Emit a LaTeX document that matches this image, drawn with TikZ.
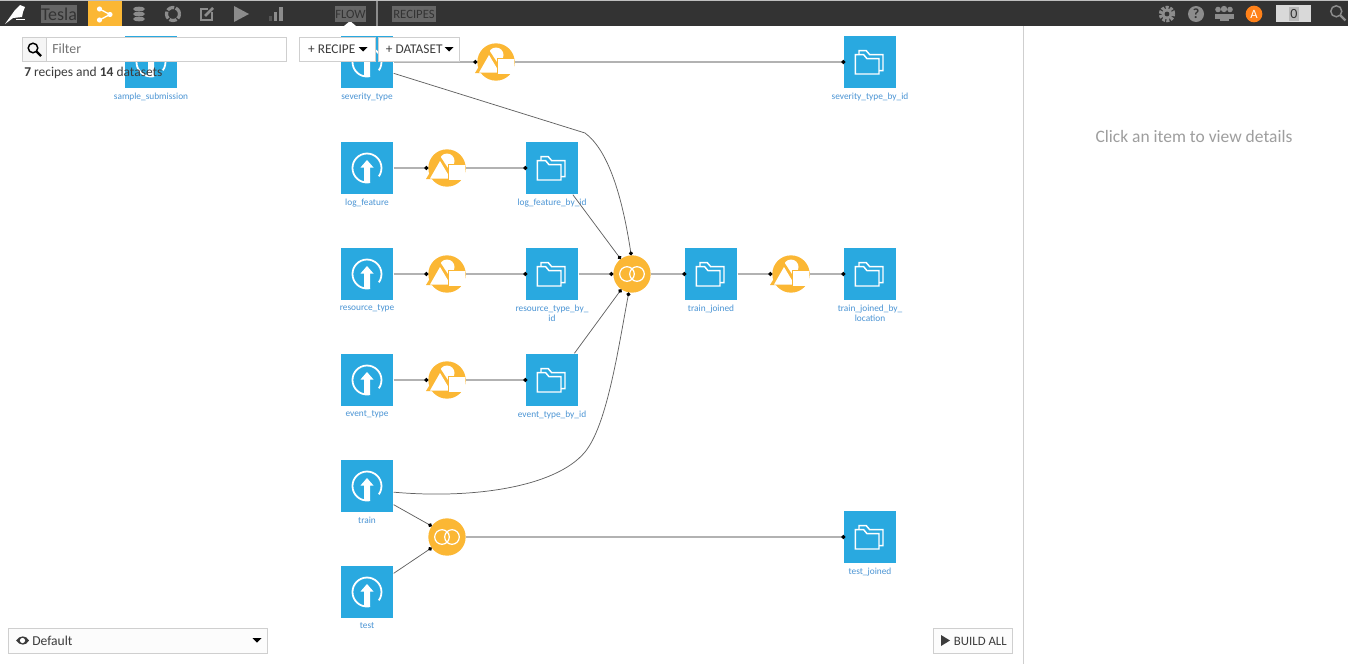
\documentclass[tikz,border=0pt]{standalone}
\usepackage{fontspec}
\setmainfont{Carlito}
\usetikzlibrary{arrows.meta}

\definecolor{barbg}{HTML}{333333}
\definecolor{barhi}{HTML}{666666}
\definecolor{baricon}{HTML}{8C8C8C}
\definecolor{dsblue}{HTML}{29A9E0}
\definecolor{dstext}{HTML}{4A94D4}
\definecolor{recipeyellow}{HTML}{FBB734}
\definecolor{panelline}{HTML}{CFCFCF}
\definecolor{uitext}{HTML}{3C3C3C}

\newcommand{\pxfont}[1]{\fontsize{#1}{#1}\selectfont}

\tikzset{
    dataset/.style={rectangle, fill=dsblue, minimum size=39pt, inner sep=0pt, outer sep=0.5pt},
    recipe/.style={circle, fill=recipeyellow, minimum size=28pt, inner sep=0pt, outer sep=1.5pt},
    dslabel/.style={text=dstext, font=\fontsize{7}{7.5}\selectfont, align=center, inner sep=0pt, yshift=-3pt},
    flowthick/.style={draw=black!30, line width=1.2pt, shorten >=-1.5pt, -{Circle[black,length=3pt]}},
    flowthin/.style={draw=black!62, line width=0.55pt, shorten >=-1.5pt, -{Circle[black,length=3pt]}},
    recipeout/.style={shorten <=-1.5pt},
    uibox/.style={draw=panelline, fill=white, line width=0.8pt, inner sep=0pt, text=uitext},
    barhilite/.style={fill=barhi, text=barbg, inner sep=0pt},
    uploadicon/.pic={
        \draw[white, line width=1.35pt] (3,-14.2) arc[start angle=-78, end angle=-395, radius=14.5];
        \fill[white] (0,8) -- (6.5,0.5) -- (3,0.5) -- (3,-14.5) -- (-3,-14.5) -- (-3,0.5) -- (-6.5,0.5) -- cycle;
    },
    foldericon/.pic={
        \draw[white, line width=1.1pt] (-14.7,7.3) -- (-14.7,-12) -- (9,-12) -- (9,3.3) -- (-3,3.3) -- (-6.3,7.3) -- cycle;
        \draw[white, line width=1.1pt] (-11,7.3) -- (-11,11.3) -- (-3.7,11.3) -- (-0.3,7.3) -- (13,7.3) -- (13,-8.7) -- (9,-8.7);
    },
    spliticon/.pic={
        \fill[white] (0,7) circle (7.5);
        \fill[recipeyellow] (-21,-11) -- (-7,12) -- (8,-11) -- cycle;
        \fill[white] (-17,-10.5) -- (-7,7) -- (3.5,-10.5) -- cycle;
        \fill[white] (1.5,4) rectangle (17.5,-12);
        \draw[recipeyellow, line width=0.6pt] (1.5,-12) -- (1.5,4) -- (17.5,4);
    },
    joinicon/.pic={
        \draw[white, line width=0.9pt] (-5,0) circle (7.3);
        \draw[white, line width=0.9pt] (5,0) circle (7.3);
    },
    lensicon/.pic={
        \draw[#1, line width=1.1pt] (-1.5,1.5) circle (4.8);
        \draw[#1, line width=1.8pt] (2,-2) -- (6.5,-6.5);
    },
    lensicon/.default=black!60,
    caret/.pic={
        \fill[black] (-4.5,2) -- (4.5,2) -- (0,-2.5) -- cycle;
    },
}

\begin{document}
\begin{tikzpicture}[x=0.75pt, y=0.75pt]
    \useasboundingbox (0,0) rectangle (1348,-664);
    \fill[white] (0,0) rectangle (1348,-664);

    % Datasets
    \node[dataset, label={[dslabel]below:sample\_submission}] (sample_submission) at (151,-62) {};
    \node[dataset, label={[dslabel]below:severity\_type}] (severity_type) at (367,-62) {};
    \node[dataset, label={[dslabel]below:severity\_type\_by\_id}] (severity_type_by_id) at (870,-62) {};
    \node[dataset, label={[dslabel]below:log\_feature}] (log_feature) at (367,-168) {};
    \node[dataset, label={[dslabel]below:log\_feature\_by\_id}] (log_feature_by_id) at (552,-168) {};
    \node[dataset, label={[dslabel]below:resource\_type}] (resource_type) at (367,-274) {};
    \node[dataset, label={[dslabel]below:{resource\_type\_by\_\\id}}] (resource_type_by_id) at (552,-274) {};
    \node[dataset, label={[dslabel]below:event\_type}] (event_type) at (367,-380) {};
    \node[dataset, label={[dslabel]below:event\_type\_by\_id}] (event_type_by_id) at (552,-380) {};
    \node[dataset, label={[dslabel]below:train\_joined}] (train_joined) at (711,-274) {};
    \node[dataset, label={[dslabel]below:{train\_joined\_by\_\\location}}] (train_joined_by_location) at (870,-274) {};
    \node[dataset, label={[dslabel]below:train}] (train) at (367,-486) {};
    \node[dataset, label={[dslabel]below:test}] (test) at (367,-592) {};
    \node[dataset, label={[dslabel]below:test\_joined}] (test_joined) at (870,-537) {};

    % Recipes
    \node[recipe] (split_severity) at (496,-62) {};
    \node[recipe] (split_log) at (447,-168) {};
    \node[recipe] (split_resource) at (447,-274) {};
    \node[recipe] (split_event) at (447,-380) {};
    \node[recipe] (split_train) at (791,-274) {};
    \node[recipe] (join_train) at (632,-274) {};
    \node[recipe] (join_test) at (447,-537) {};

    % Icons
    \foreach \name in {sample_submission,severity_type,log_feature,resource_type,event_type,train,test}
        \pic at (\name) {uploadicon};
    \foreach \name in {severity_type_by_id,log_feature_by_id,resource_type_by_id,event_type_by_id,train_joined,train_joined_by_location,test_joined}
        \pic at (\name) {foldericon};
    \foreach \name in {split_severity,split_log,split_resource,split_event,split_train}
        \pic at (\name) {spliticon};
    \foreach \name in {join_train,join_test}
        \pic at (\name) {joinicon};

    % Links
    \draw[flowthick] (severity_type) -- (split_severity);
    \draw[flowthick, recipeout] (split_severity) -- (severity_type_by_id);
    \draw[flowthick] (log_feature) -- (split_log);
    \draw[flowthick, recipeout] (split_log) -- (log_feature_by_id);
    \draw[flowthick] (resource_type) -- (split_resource);
    \draw[flowthick, recipeout] (split_resource) -- (resource_type_by_id);
    \draw[flowthick] (event_type) -- (split_event);
    \draw[flowthick, recipeout] (split_event) -- (event_type_by_id);
    \draw[flowthick] (resource_type_by_id) -- (join_train);
    \draw[flowthick, recipeout] (join_train) -- (train_joined);
    \draw[flowthick] (train_joined) -- (split_train);
    \draw[flowthick, recipeout] (split_train) -- (train_joined_by_location);
    \draw[flowthick, recipeout] (join_test) -- (test_joined);

    % Thin links into the joins
    \coordinate (severity_bend) at (585,-133);
    \coordinate (train_bend) at (585,-452);
    \draw[flowthin] (severity_type.-23) -- (severity_bend) .. controls (608,-150) and (622,-195) .. (join_train.93);
    \draw[flowthin] (log_feature_by_id.-52) -- (join_train.127);
    \draw[flowthin] (event_type_by_id.50) -- (join_train.-125);
    \draw[flowthin] (train.-13) .. controls (470,-499) and (555,-488) .. (train_bend) .. controls (607,-425) and (618,-350) .. (join_train.-100);
    \draw[flowthin] (train.-35) -- (join_test.145);
    \draw[flowthin] (test.35) -- (join_test.-145);

    % Top bar
    \fill[barbg] (0,-1) rectangle (1348,-26);
    \fill[black!25] (0,0) rectangle (1348,-1);
    \fill[white] (344,-26) -- (350,-21) -- (356,-26) -- cycle;
    \fill[white] (5,-24) -- (15,-10) -- (20,-5) -- (25,-7) -- (23,-12) -- (22,-17) -- (13,-18) -- cycle;
    \fill[white] (16,-18.5) rectangle (25,-20);
    \node[barhilite, minimum width=25.5pt, minimum height=14pt, font=\pxfont{13.5}] (project_name) at (59,-14) {Tesla};
    \fill[recipeyellow] (88,-1) rectangle (122,-26);
    \draw[white, line width=1pt] (99.5,-9) -- (110,-14.5) -- (99.5,-20);
    \fill[white] (99.5,-9) circle (2.6) (110,-14.5) circle (2.6) (99.5,-20) circle (2.6);
    \foreach \y in {-9,-14,-19}
        \fill[baricon] (139,\y) ellipse (6 and 2.3);
    \draw[baricon, line width=2.4pt, dash pattern=on 5.5pt off 1.2pt] (173,-14) circle (6.5);
    \draw[baricon, line width=1.3pt] (212,-12) -- (212,-20) -- (201,-20) -- (201,-9) -- (208,-9);
    \draw[baricon, line width=2pt] (205,-16) -- (213,-8);
    \fill[baricon] (234,-6) -- (249,-14) -- (234,-22) -- cycle;
    \fill[black!40!baricon] (269,-16) rectangle (272,-21);
    \fill[baricon] (274,-12) rectangle (277,-21);
    \fill[baricon] (279,-7) rectangle (283,-21);
    \node[barhilite, minimum width=23.5pt, minimum height=11.5pt, font=\pxfont{9.5}] (flow_tab) at (350.5,-14) {FLOW};
    \fill[baricon] (376,-1) rectangle (378,-26);
    \node[barhilite, minimum width=33pt, minimum height=11.5pt, font=\pxfont{9.5}] (recipes_tab) at (414,-14) {RECIPES};
    \draw[baricon, line width=2.6pt, dash pattern=on 2.2pt off 1pt] (1167,-14) circle (6.5);
    \fill[baricon] (1167,-14) circle (5.5);
    \fill[barbg] (1167,-14) circle (2.4);
    \node[circle, fill=baricon, minimum size=12pt, inner sep=0pt, text=barbg, font=\bfseries\pxfont{10.5}] (help_icon) at (1196,-14) {?};
    \foreach \x in {1218,1230} {
        \fill[baricon] (\x,-9.5) circle (2.8);
        \fill[baricon] (\x-3.5,-19) rectangle (\x+3.5,-13.5);
    }
    \fill[baricon] (1224,-9) circle (3.2);
    \fill[baricon] (1219.5,-21) rectangle (1228.5,-13.5);
    \node[circle, fill=orange!90!red!90!white, minimum size=12.5pt, inner sep=0pt, text=white, font=\pxfont{9.5}] (avatar) at (1254,-14) {A};
    \fill[black!15] (1276,-5) rectangle (1311,-22);
    \node[fill=black!28, minimum width=8pt, minimum height=11pt, inner sep=0pt, text=barbg, font=\pxfont{10.5}] (counter) at (1294,-14) {0};
    \pic[scale=1.15] at (1338,-13) {lensicon=baricon};

    % Filter and buttons
    \node[uibox, minimum width=198pt, minimum height=18.5pt] (filter_box) at (154.5,-49.5) {};
    \node[uibox, fill=black!4, minimum width=18.5pt, minimum height=18.5pt] (filter_lens) at (34.5,-49.5) {};
    \pic at (filter_lens) {lensicon};
    \node[anchor=west, text=black!55, inner sep=0pt, font=\pxfont{10.4}] (filter_text) at (52,-48.5) {Filter};
    \node[anchor=west, text=uitext, inner sep=0pt, font=\pxfont{10.1}] (recipes_count) at (24,-73) {\textbf{7} recipes and \textbf{14} datasets};
    \node[uibox, minimum width=57pt, minimum height=18.5pt, anchor=west, font=\pxfont{10}, text depth=0pt, align=left] (recipe_button) at (298.5,-49.5) {\hspace{5pt}+ RECIPE\hspace{13pt}};
    \node[uibox, minimum width=61pt, minimum height=18.5pt, anchor=west, font=\pxfont{10}, text depth=0pt, align=left] (dataset_button) at (378,-49.5) {\hspace{4.5pt}+ DATASET\hspace{12pt}};
    \pic at (363,-49) {caret};
    \pic at (449,-49) {caret};

    % Side panel and footer
    \draw[panelline, line width=0.8pt] (1023.5,-26) -- (1023.5,-664);
    \node[text=black!38, inner sep=0pt, font=\pxfont{13.1}] (details_hint) at (1194,-136.5) {Click an item to view details};
    \node[uibox, fill=black!1, minimum width=194.5pt, minimum height=19pt] (view_select) at (138,-641) {};
    \fill[uitext] (16,-640.5) .. controls (20,-635) and (26,-635) .. (29,-640.5) .. controls (26,-646) and (20,-646) .. (16,-640.5) -- cycle;
    \fill[white] (22.5,-640.5) circle (2.6);
    \node[anchor=west, text=uitext, inner sep=0pt, font=\pxfont{10.2}] (view_text) at (32,-640.5) {Default};
    \pic at (257,-640) {caret};
    \node[uibox, fill=black!1, minimum width=59.5pt, minimum height=19pt, font=\pxfont{9.6}] (build_button) at (973,-641) {\hspace{11pt}BUILD ALL};
    \fill[uitext] (941,-635) -- (950,-640.5) -- (941,-646) -- cycle;
\end{tikzpicture}
\end{document}
